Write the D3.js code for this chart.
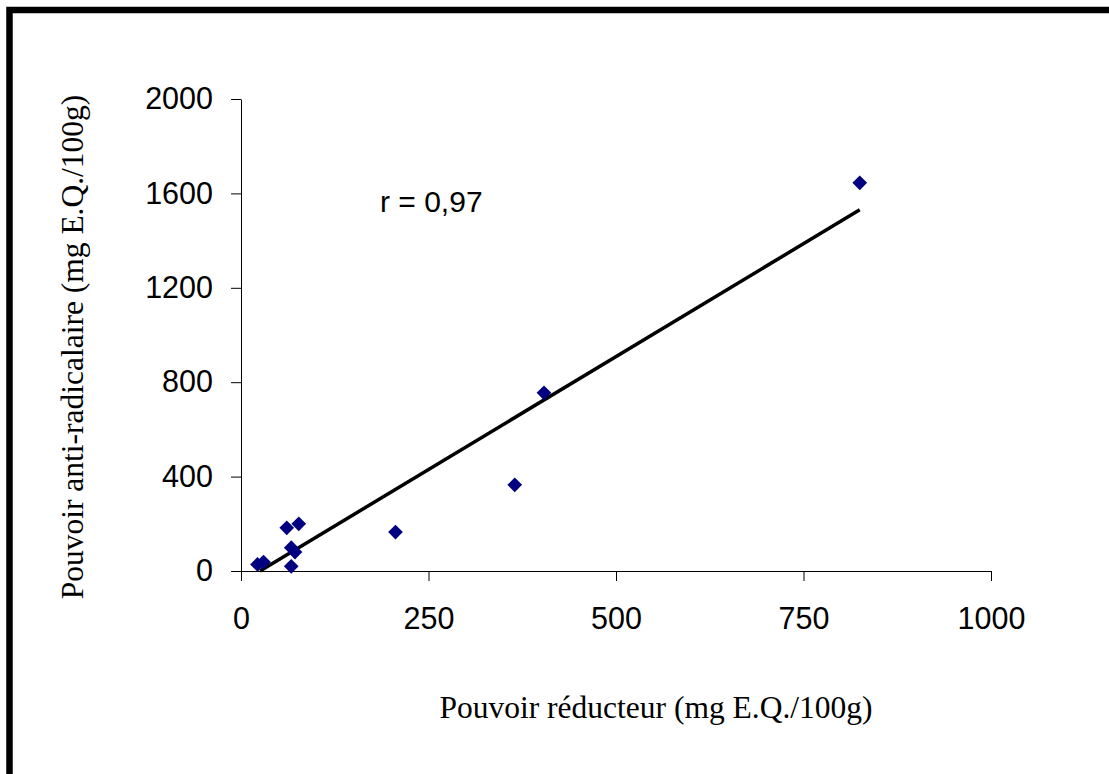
<!DOCTYPE html>
<html>
<head>
<meta charset="utf-8">
<script src="https://cdn.jsdelivr.net/npm/d3@7"></script>
<style>
  body { margin: 0; background: #fff; }
  svg { display: block; }
</style>
</head>
<body>
<div id="d3-container"></div>
<script>
/**
 * DATA
 * */
// pouvoir réducteur (x) / pouvoir anti-radicalaire (y), mg E.Q./100g
const reducteur = [22, 30, 61, 77, 67, 72, 67, 206, 365, 404, 825];
const antiRadical = [28, 38, 183, 200, 99, 80, 20, 165, 365, 755, 1645];
const xTicks = [0, 250, 500, 750, 1000];
const yTicks = [0, 400, 800, 1200, 1600, 2000];
// trendline y = slope * x + intercept
const slope = 1.914;
const intercept = -48.5;
const trendEnds = [25.3, 825];
const rLabel = "r = 0,97";

/**
 * CONSTANTS
 * */
const width = 1109,
  height = 774,
  margin = { top: 99, bottom: 203, left: 241, right: 118 };

const svg = d3.select("#d3-container")
  .append("svg")
  .attr("width", width)
  .attr("height", height);

// frame (only top and left edges are visible in the picture)
svg.append("rect")
  .attr("x", 9.5)
  .attr("y", 10)
  .attr("width", width + 20)
  .attr("height", height + 20)
  .attr("fill", "none")
  .attr("stroke", "#000")
  .attr("stroke-width", 6.5);

const x = d3.scaleLinear([0, 1000], [margin.left, width - margin.right]);
const y = d3.scaleLinear([0, 2000], [height - margin.bottom, margin.top]);

const sans = "'Liberation Sans', Arial, sans-serif";
const serif = "'Liberation Serif', 'Times New Roman', serif";
const fmt = d3.format("d");

// x axis
const xAxis = svg.append("g")
  .attr("transform", `translate(0, ${y(0)})`)
  .call(d3.axisBottom(x).tickValues(xTicks).tickFormat(fmt)
    .tickSize(10).tickSizeOuter(0).tickPadding(26));
xAxis.select(".domain").attr("d", `M${x(0) - 10},0.5H${x(1000)}`);

// y axis
const yAxis = svg.append("g")
  .attr("transform", `translate(${x(0)}, 0)`)
  .call(d3.axisLeft(y).tickValues(yTicks).tickFormat(fmt)
    .tickSize(10).tickSizeOuter(0).tickPadding(18));

svg.selectAll(".tick text")
  .attr("font-family", sans)
  .attr("font-size", 30.5)
  .attr("fill", "#000");
xAxis.selectAll(".tick text").attr("dy", "0.71em");
svg.selectAll(".domain, .tick line").attr("stroke", "#000");

// trendline
svg.append("line")
  .attr("x1", x(trendEnds[0]))
  .attr("y1", y(slope * trendEnds[0] + intercept))
  .attr("x2", x(trendEnds[1]))
  .attr("y2", y(slope * trendEnds[1] + intercept))
  .attr("stroke", "#000")
  .attr("stroke-width", 3.5);

// points (diamonds)
const points = reducteur.map((d, i) => ({ x: d, y: antiRadical[i] }));
const diamond = d3.symbol(d3.symbolSquare, 108);
svg.selectAll("path.point")
  .data(points)
  .join("path")
  .attr("class", "point")
  .attr("d", diamond)
  .attr("fill", "#000080")
  .attr("transform", d => `translate(${x(d.x)}, ${y(d.y)}) rotate(45)`);

// correlation label
svg.append("text")
  .attr("x", 380)
  .attr("y", 212)
  .attr("font-family", sans)
  .attr("font-size", 30)
  .attr("fill", "#000")
  .text(rLabel);

// axis titles
svg.append("text")
  .attr("x", 656)
  .attr("y", 718)
  .attr("text-anchor", "middle")
  .attr("font-family", serif)
  .attr("font-size", 31.5)
  .attr("fill", "#000")
  .text("Pouvoir réducteur (mg E.Q./100g)");

svg.append("text")
  .attr("transform", "translate(83, 347) rotate(-90)")
  .attr("text-anchor", "middle")
  .attr("font-family", serif)
  .attr("font-size", 31.5)
  .attr("fill", "#000")
  .text("Pouvoir anti-radicalaire (mg E.Q./100g)");
</script>
</body>
</html>
